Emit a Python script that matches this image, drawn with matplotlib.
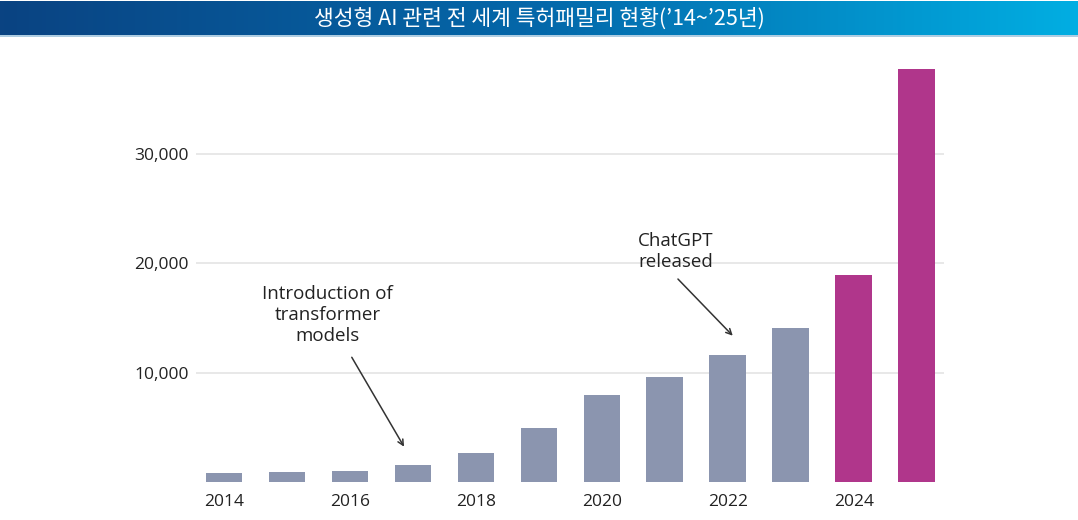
import numpy as np
import matplotlib.pyplot as plt
from matplotlib.colors import LinearSegmentedColormap

# 생성형 AI 특허패밀리 수 (연도별)
years = [2014, 2015, 2016, 2017, 2018, 2019, 2020, 2021, 2022, 2023, 2024, 2025]
families = [780, 890, 1040, 1550, 2620, 4950, 7930, 9630, 11620, 14120, 18910, 37760]
highlight = [2024, 2025]
xtick_years = [2014, 2016, 2018, 2020, 2022, 2024]
ytick_vals = [10000, 20000, 30000]
title = '생성형 AI 관련 전 세계 특허패밀리 현황(’14~’25년)'

gray = '#8b95af'
magenta = '#b0368b'
txt = '#222222'

plt.rcParams['font.family'] = ['Open Sans', 'DejaVu Sans']

fig = plt.figure(figsize=(10.78, 5.2), dpi=100)

# title banner with gradient
bax = fig.add_axes([0, 1 - 35 / 520, 1, 34 / 520])
cmap = LinearSegmentedColormap.from_list('banner', ['#0a4382', '#0468aa', '#01aee2'])
bax.imshow(np.linspace(0, 1, 256).reshape(1, -1), aspect='auto', cmap=cmap,
           extent=(0, 1, 0, 1))
bax.set_xlim(0, 1)
bax.set_ylim(0, 1)
bax.axis('off')
bax.text(0.5, 0.48, title, ha='center', va='center', color='white', fontsize=15.5,
         family=['Noto Sans CJK KR', 'DejaVu Sans'])
fig.add_artist(plt.Line2D([0, 1], [1 - 35.5 / 520] * 2, color='#9ec3dd', lw=1.2))

ax = fig.add_axes([196 / 1078, 38 / 520, 748 / 1078, 422 / 520])
colors = [magenta if y in highlight else gray for y in years]
ax.bar(years, families, width=0.58, color=colors, zorder=3)

ax.set_xlim(2014 - 0.444, 2025 + 0.435)
ax.set_ylim(0, 38610)
ax.set_yticks(ytick_vals)
ax.set_yticklabels([f'{v:,}' for v in ytick_vals])
ax.set_xticks(xtick_years)
ax.set_xticklabels([str(y) for y in xtick_years])
ax.tick_params(axis='both', length=0, labelsize=12.5, colors=txt)
ax.tick_params(axis='y', pad=5)
ax.tick_params(axis='x', pad=9)
ax.grid(axis='y', color='#e8e8e8', lw=1.4, zorder=0)
for s in ax.spines.values():
    s.set_visible(False)

# annotations
arrow = dict(arrowstyle='->', color='#333333', lw=1.1, shrinkA=0, shrinkB=0)
ax.text(2015.65, 15270, 'Introduction of\ntransformer\nmodels', ha='center', va='center',
        fontsize=13.5, color=txt, linespacing=1.2)
ax.annotate('', xy=(2016.86, 3230), xytext=(2016.03, 11410), arrowprops=arrow)
ax.text(2021.18, 21100, 'ChatGPT\nreleased', ha='center', va='center',
        fontsize=13.5, color=txt, linespacing=1.25)
ax.annotate('', xy=(2022.08, 13385), xytext=(2021.21, 18570), arrowprops=arrow)

fig.savefig('out.png', dpi=100)
